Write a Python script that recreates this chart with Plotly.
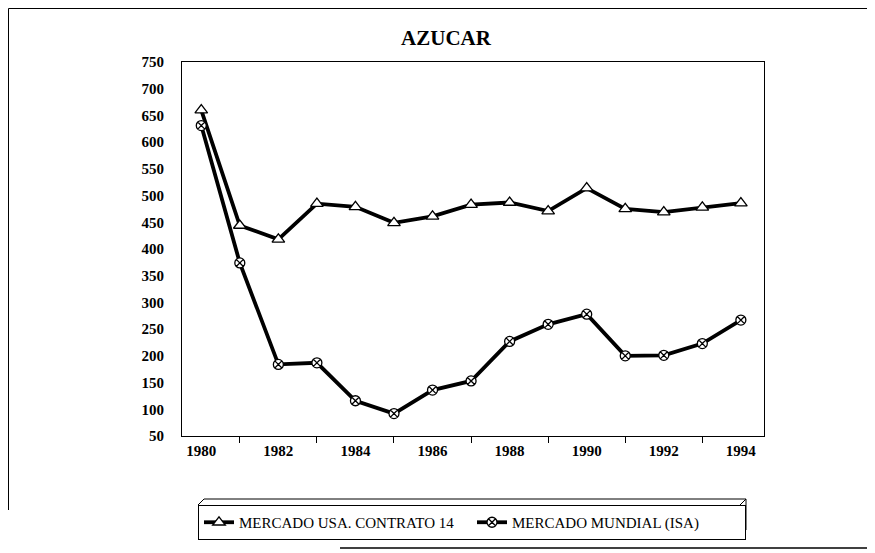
import plotly.graph_objects as go

years = list(range(1980, 1995))
usa_contrato14 = [660, 444, 418, 485, 479, 449, 461, 483, 487, 471, 514, 475, 469, 478, 486]
mercado_mundial = [631, 374, 184, 187, 116, 92, 136, 153, 227, 259, 278, 200, 201, 223, 267]
y_ticks = list(range(50, 751, 50))
x_ticks = list(range(1980, 1995, 2))
x_minor_ticks = list(range(1981, 1995, 2))

OFF = 8  # page body margin of the browser
VW, VH = 875, 553
W, H = VW - OFF, VH - OFF
# plot area in viewport pixels
L, R, T, B = 182, 764, 62, 436

def px(x):
    return (x - L) / (R - L)

def py(y):
    return (B - y) / (B - T)

serif = "Liberation Serif"

fig = go.Figure()
fig.add_trace(go.Scatter(
    x=years, y=usa_contrato14, mode="lines+markers",
    name="MERCADO USA. CONTRATO 14",
    line=dict(color="black", width=3.8),
    marker=dict(symbol="triangle-up", size=11, color="white",
                line=dict(color="black", width=1.3)),
))
fig.add_trace(go.Scatter(
    x=years, y=mercado_mundial, mode="lines+markers",
    name="MERCADO MUNDIAL (ISA)",
    line=dict(color="black", width=3.8),
    marker=dict(symbol="circle-x", size=10, color="white",
                line=dict(color="black", width=1.3)),
))

shapes = [
    # outer frame
    dict(type="line", xref="paper", yref="paper", x0=px(8.5), x1=px(875), y0=py(8.5), y1=py(8.5),
         line=dict(color="black", width=1)),
    dict(type="line", xref="paper", yref="paper", x0=px(8.5), x1=px(8.5), y0=py(8.5), y1=py(510),
         line=dict(color="black", width=1)),
    dict(type="line", xref="paper", yref="paper", x0=px(340), x1=px(875), y0=py(548), y1=py(548),
         line=dict(color="black", width=1.5)),
    # legend 3D extrusion
    dict(type="path", xref="paper", yref="paper",
         path=f"M {px(198)},{py(505)} L {px(204)},{py(499)} L {px(746)},{py(499)} L {px(746)},{py(530)} L {px(740)},{py(536)}",
         line=dict(color="black", width=1)),
    dict(type="line", xref="paper", yref="paper", x0=px(740), x1=px(746), y0=py(505), y1=py(499),
         line=dict(color="black", width=1)),
]

fig.update_layout(
    width=W, height=H,
    margin=dict(l=L - OFF, r=W - (R - OFF), t=T - OFF, b=H - (B - OFF)),
    paper_bgcolor="white", plot_bgcolor="white",
    title=dict(text="<b>AZUCAR</b>", x=(446 - OFF) / W, xanchor="center",
               y=1 - (38 - OFF) / H, yanchor="middle",
               font=dict(family=serif, size=21, color="black")),
    font=dict(family=serif, color="black"),
    showlegend=True,
    legend=dict(orientation="h", x=px(198), y=py(505), xanchor="left", yanchor="top",
                bordercolor="black", borderwidth=1, bgcolor="white",
                font=dict(family=serif, size=15, color="black"),
                entrywidth=228, entrywidthmode="pixels",
                tracegroupgap=0),
    shapes=shapes,
    xaxis=dict(range=[1979.5, 1994.6], tickmode="array", tickvals=x_ticks,
               ticktext=[str(v) for v in x_ticks], ticks="", showgrid=False, zeroline=False,
               showline=True, linecolor="black", linewidth=1, mirror=True,
               tickfont=dict(family=serif, size=15, color="black", weight="bold"),
               minor=dict(tickmode="array", tickvals=x_minor_ticks, ticks="outside",
                          ticklen=6, tickcolor="black", showgrid=False),
               ticklabelstandoff=1),
    yaxis=dict(range=[50, 750], tickmode="array", tickvals=y_ticks, ticks="", showgrid=False,
               zeroline=False, showline=True, linecolor="black", linewidth=1, mirror=True,
               tickfont=dict(family=serif, size=15, color="black", weight="bold"),
               ticklabelstandoff=14),
)

fig.write_html("out.html")
